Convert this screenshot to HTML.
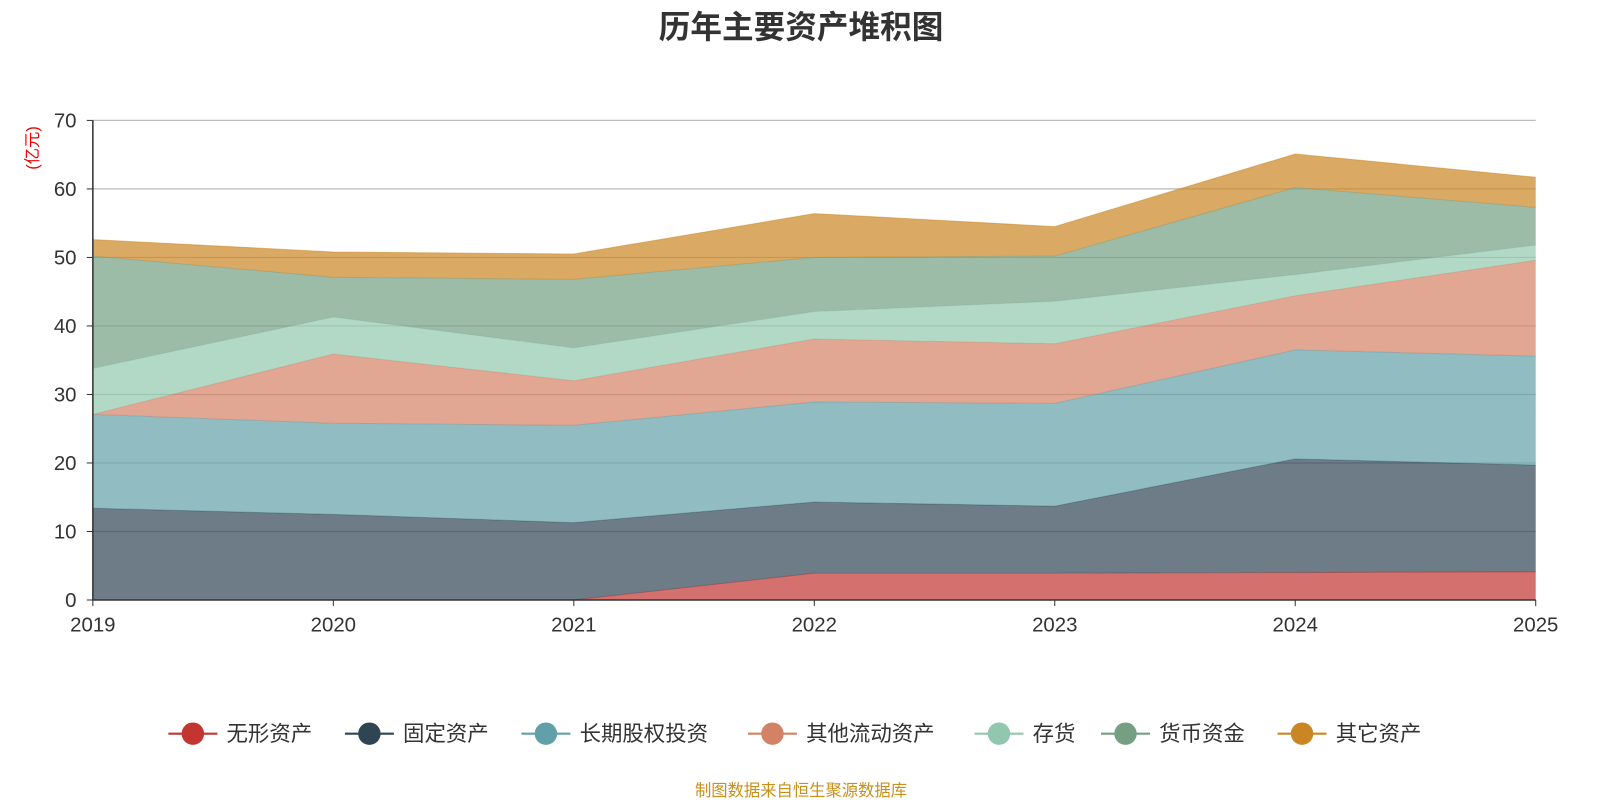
<!DOCTYPE html>
<html><head><meta charset="utf-8"><style>
body{margin:0;background:#fff;font-family:"Liberation Sans","Noto Sans CJK SC",sans-serif;overflow:hidden;}
svg text{font-family:"Liberation Sans","Noto Sans CJK SC",sans-serif;}
</style></head><body>
<svg id="c" width="1600" height="800" viewBox="0 0 1568 784" preserveAspectRatio="none" xmlns="http://www.w3.org/2000/svg">
<text x="785" y="37" text-anchor="middle" font-size="31" font-weight="bold" fill="#333">历年主要资产堆积图</text>
<text transform="translate(37,145) rotate(-90)" text-anchor="middle" font-size="16" fill="#e00">(亿元)</text>
<g id="grid"></g><g id="areas"></g><g id="axes"></g><g id="legend"></g>
<text x="785" y="780" text-anchor="middle" font-size="16" fill="#c8901a">制图数据来自恒生聚源数据库</text>
</svg>
<script>
const years=["2019","2020","2021","2022","2023","2024","2025"];
const seriesNames=["无形资产","固定资产","长期股权投资","其他流动资产","存货","货币资金","其它资产"];
const colors=["#c23531","#2f4554","#61a0a8","#d48265","#91c7ae","#749f83","#ca8622"];
const intangible=[0,0,0,3.9,3.9,4.0,4.1];
const fixedAssets=[13.4,12.5,11.3,10.4,9.8,16.6,15.6];
const equityInv=[13.7,13.3,14.2,14.6,15.0,15.9,15.9];
const otherCurrent=[0,10.1,6.5,9.2,8.7,7.9,14.0];
const inventory=[6.7,5.4,4.8,4.0,6.2,3.1,2.2];
const cash=[16.4,5.8,10.0,7.9,6.6,12.7,5.5];
const otherAssets=[2.4,3.7,3.7,6.4,4.3,4.9,4.4];
const yTicks=[0,10,20,30,40,50,60,70];
const data=[intangible,fixedAssets,equityInv,otherCurrent,inventory,cash,otherAssets];
const NS="http://www.w3.org/2000/svg";
const x0=91,x1=1505,y0=588,y1=118,yMax=70;
const X=i=>x0+(x1-x0)*i/(years.length-1);
const Y=v=>y0-(y0-y1)*v/yMax;
function mk(t,a,p){const e=document.createElementNS(NS,t);for(const k in a)e.setAttribute(k,a[k]);p.appendChild(e);return e;}
const grid=document.getElementById('grid'),areas=document.getElementById('areas'),axes=document.getElementById('axes'),legend=document.getElementById('legend');
yTicks.forEach(t=>{
 if(t>0){const l=mk('line',{x1:x0,x2:x1,y1:Y(t),y2:Y(t),stroke:'#bbb','stroke-width':1.2},grid);
 
 }
 const tx=mk('text',{x:x0-16,y:Y(t)+7,'text-anchor':'end','font-size':20,fill:'#333'},axes);tx.textContent=t;
 
 
 mk('line',{x1:x0-6,x2:x0,y1:Y(t),y2:Y(t),stroke:'#333'},axes);
});
let base=years.map(()=>0);
data.forEach((s,si)=>{
 const top=base.map((b,i)=>b+s[i]);
 let d='M'+years.map((_,i)=>X(i)+','+Y(top[i])).join('L');
 for(let i=years.length-1;i>=0;i--)d+='L'+X(i)+','+Y(base[i]);
 d+='Z';
 const p=mk('path',{d:d,fill:colors[si],'fill-opacity':0.7,stroke:'none'},areas);
 
 
 const ln=mk('polyline',{points:years.map((_,i)=>X(i)+','+Y(top[i])).join(' '),fill:'none',stroke:colors[si],'stroke-opacity':0.5,'stroke-width':1},areas);
 
 
 base=top;
});
mk('line',{x1:x0,x2:x0,y1:y1,y2:y0,stroke:'#333','stroke-width':1.5},axes);
mk('line',{x1:x0,x2:x1,y1:y0,y2:y0,stroke:'#333','stroke-width':1.5},axes);
years.forEach((yr,i)=>{
 mk('line',{x1:X(i),x2:X(i),y1:y0,y2:y0+6,stroke:'#333'},axes);
 const t=mk('text',{x:X(i),y:y0+31,'text-anchor':'middle','font-size':20,fill:'#333'},axes);t.textContent=yr;
 
 
});
const lx=[165,338,511,733,955,1079,1252];
seriesNames.forEach((n,i)=>{
 const g=mk('g',{},legend);
 
 
 mk('line',{x1:lx[i],x2:lx[i]+48,y1:719,y2:719,stroke:colors[i],'stroke-width':2},g);
 mk('circle',{cx:lx[i]+24,cy:719,r:11,fill:colors[i]},g);
 const t=mk('text',{x:lx[i]+57,y:726,'font-size':21,fill:'#333'},g);t.textContent=n;
});
</script>
</body></html>
